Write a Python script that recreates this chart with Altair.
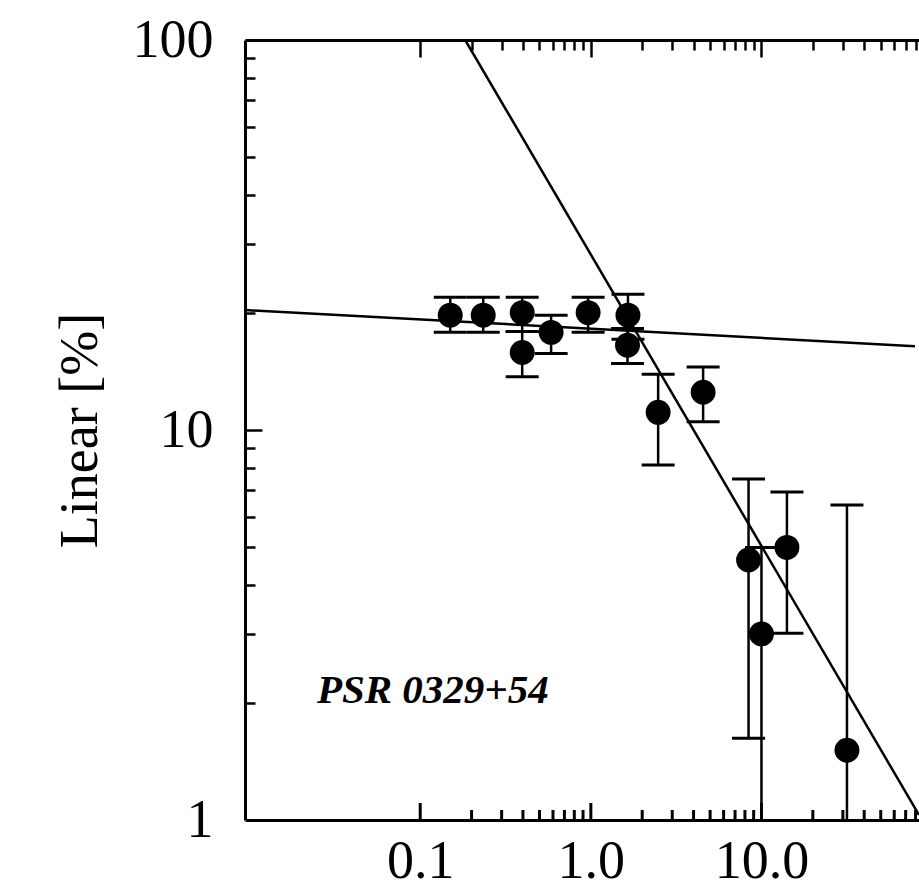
import altair as alt
import pandas as pd

# ---- data ----
freq = [0.150, 0.234, 0.396, 0.396, 0.585, 0.964, 1.65, 1.64, 2.48, 4.55, 8.4, 10.0, 14.1, 31.7]
linear = [19.7, 19.7, 20.0, 15.8, 17.8, 20.0, 19.7, 16.5, 11.1, 12.5, 4.64, 3.0, 5.0, 1.51]
upper = [21.9, 21.9, 21.9, 17.9, 19.7, 21.9, 22.3, 18.2, 13.9, 14.5, 7.49, 5.0, 6.93, 6.42]
lower = [17.8, 17.8, 17.9, 13.7, 15.7, 17.8, 17.1, 14.8, 8.13, 10.5, 1.62, 0.9, 3.01, 0.5]

steep_x = [0.1835, 83.8]
steep_y = [100.0, 1.03]
flat_x = [0.0094, 79.4]
flat_y = [20.3, 16.4]

label_text = ["PSR 0329+54"]
label_x = [0.0248]
label_y = [2.0]

x_domain = [0.0094, 83.8]
y_domain = [1, 100]
x_label_values = [0.1, 1, 10]
y_label_values = [1, 10, 100]
x_major_ticks = [0.1, 1, 10]
x_minor_ticks = [0.2, 0.3, 0.4, 0.5, 0.6, 0.7, 0.8, 0.9,
                 2, 3, 4, 5, 6, 7, 8, 9,
                 20, 30, 40, 50, 60, 70, 80]
x_tick_values = sorted(x_major_ticks + x_minor_ticks)
y_tick_values = [2, 3, 4, 5, 6, 7, 8, 9, 10, 20, 30, 40, 50, 60, 70, 80, 90]

# ---- tables ----
pts = pd.DataFrame({"freq": freq, "lin": linear, "hi": upper, "lo": lower})
lines = pd.DataFrame({
    "x": steep_x + flat_x,
    "y": steep_y + flat_y,
    "fit": ["steep"] * len(steep_x) + ["flat"] * len(flat_x),
})
labels = pd.DataFrame({"t": label_text, "x": label_x, "y": label_y})
ticks_df = pd.DataFrame({
    "v": x_major_ticks + x_minor_ticks,
    "kind": ["major"] * len(x_major_ticks) + ["minor"] * len(x_minor_ticks),
})

W, H = 674, 780
FONT = "Liberation Serif"
MAJ_LEN, MIN_LEN = 17, 10

xs = alt.Scale(type="log", domain=x_domain, nice=False)
ys = alt.Scale(type="log", domain=y_domain, nice=False)

x_major = "datum.value == 0.1 || datum.value == 1 || datum.value == 10"
y_major = "datum.value == 10"

ax_x_labels = alt.Axis(orient="bottom", values=x_label_values, format=".1f",
                       ticks=False, domain=True, domainWidth=3, domainColor="black",
                       labelFont=FONT, labelFontSize=54, labelColor="black",
                       labelPadding=14, grid=False, title=None, labelFlush=False)
# top frame line with ticks pointing down into the plot
ax_x_ticks_top = alt.Axis(orient="bottom", offset=-H, values=x_tick_values,
                          labels=False, domain=True, domainWidth=3, domainColor="black",
                          ticks=True, tickColor="black", tickWidth=2.5,
                          tickSize={"condition": {"test": x_major, "value": 17}, "value": 10},
                          grid=False, title=None)
ax_y_labels = alt.Axis(orient="left", values=y_label_values, format="d",
                       ticks=False, domain=True, domainWidth=3, domainColor="black",
                       labelFont=FONT, labelFontSize=54, labelColor="black",
                       labelPadding=32, labelFlush=False, grid=False,
                       title="Linear [%]", titleFont=FONT, titleFontSize=54,
                       titleFontWeight="normal", titleColor="black",
                       titleX=-165, titleY=H / 2, titleAngle=270,
                       titleAlign="center", titleBaseline="middle")
# ticks along the left frame pointing right into the plot
ax_y_ticks = alt.Axis(orient="right", offset=-W, values=y_tick_values,
                      labels=False, domain=False, ticks=True,
                      tickColor="black", tickWidth=2.5,
                      tickSize={"condition": {"test": y_major, "value": 17}, "value": 10},
                      grid=False, title=None)

fit_lines = alt.Chart(lines).mark_line(color="black", strokeWidth=2.5, clip=True).encode(
    x=alt.X("x:Q", scale=xs, axis=None),
    y=alt.Y("y:Q", scale=ys, axis=None),
    detail="fit:N",
)

bars = alt.Chart(pts).mark_rule(color="black", strokeWidth=2.5, clip=True).encode(
    x=alt.X("freq:Q", scale=xs, axis=ax_x_labels),
    y=alt.Y("lo:Q", scale=ys, axis=ax_y_labels),
    y2="hi:Q",
)

caps_hi = alt.Chart(pts).mark_tick(color="black", orient="horizontal", size=33,
                                   thickness=3, opacity=1, clip=True).encode(
    x=alt.X("freq:Q", scale=xs, axis=None),
    y=alt.Y("hi:Q", scale=ys, axis=ax_y_ticks),
)

caps_lo = alt.Chart(pts).mark_tick(color="black", orient="horizontal", size=33,
                                   thickness=3, opacity=1, clip=True).encode(
    x=alt.X("freq:Q", scale=xs, axis=ax_x_ticks_top),
    y=alt.Y("lo:Q", scale=ys, axis=None),
)

# inward-pointing tick marks along the bottom frame (x positions from the x scale)
bottom_major = alt.Chart(ticks_df).transform_filter(
    "datum.kind == 'major'"
).mark_tick(color="black", orient="vertical", thickness=3, opacity=1).encode(
    x=alt.X("v:Q", scale=xs, axis=None),
    y=alt.value(H - MAJ_LEN / 2),
    size=alt.value(MAJ_LEN),
)
bottom_minor = alt.Chart(ticks_df).transform_filter(
    "datum.kind == 'minor'"
).mark_tick(color="black", orient="vertical", thickness=3, opacity=1).encode(
    x=alt.X("v:Q", scale=xs, axis=None),
    y=alt.value(H - MIN_LEN / 2),
    size=alt.value(MIN_LEN),
)

dots = alt.Chart(pts).mark_circle(color="black", size=620, opacity=1).encode(
    x=alt.X("freq:Q", scale=xs, axis=None),
    y=alt.Y("lin:Q", scale=ys, axis=None),
)

txt = alt.Chart(labels).mark_text(font=FONT, fontSize=41, fontWeight="bold",
                                  fontStyle="italic", align="left",
                                  baseline="alphabetic", color="black").encode(
    x=alt.X("x:Q", scale=xs, axis=None),
    y=alt.Y("y:Q", scale=ys, axis=None),
    text="t:N",
)

chart = alt.layer(fit_lines, bars, caps_hi, caps_lo, bottom_major, bottom_minor,
                  dots, txt).resolve_axis(
    x="independent", y="independent"
).properties(
    width=W, height=H,
    padding={"left": 245, "top": 40, "right": 0, "bottom": 68},
    autosize=alt.AutoSizeParams(type="none"),
).configure(background="white").configure_view(stroke=None)

chart.save("out.html", embed_options={"renderer": "svg", "actions": False})
